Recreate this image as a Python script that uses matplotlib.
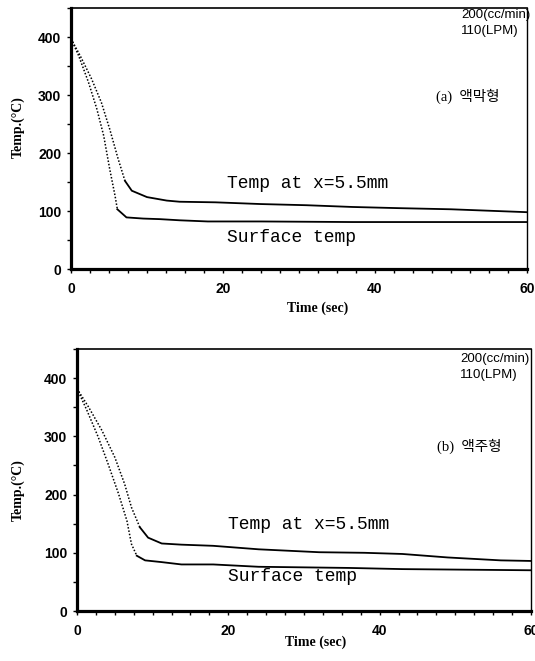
import matplotlib
matplotlib.use('Agg')
import matplotlib.pyplot as plt
from matplotlib.ticker import MultipleLocator

# (a) 액막형 - 표면 / x=5.5mm 온도
a_inner_t = [0, 1.2, 2.7, 4.0, 5.1, 6.2, 7.1, 8.0, 10.0, 12.6, 14.3, 19, 25, 31, 37, 43, 50, 56, 60]
a_inner_T = [397, 368, 328, 287, 241, 190, 152, 135, 124, 118, 116, 115, 112, 110, 107, 105, 103, 100, 98]
a_surf_t = [0, 1.0, 2.3, 3.4, 4.3, 5.1, 5.8, 6.1, 7.3, 9.5, 11.7, 14.3, 18, 25, 37, 45, 60]
a_surf_T = [397, 368, 322, 276, 230, 172, 126, 103, 89, 87, 86, 84, 82, 82, 81, 81, 81]

# (b) 액주형
b_inner_t = [0, 1.5, 3.3, 5.0, 6.3, 7.2, 8.3, 9.4, 11.2, 13.8, 18, 24, 32, 38, 43, 49, 56, 60]
b_inner_T = [382, 351, 310, 264, 218, 178, 144, 126, 116, 114, 112, 106, 101, 100, 98, 92, 87, 86]
b_surf_t = [0, 1.3, 2.8, 4.1, 5.5, 6.6, 7.2, 7.9, 9.0, 11.2, 13.8, 18, 24, 36, 43, 60]
b_surf_T = [382, 345, 299, 253, 201, 155, 115, 95, 87, 84, 80, 80, 76, 74, 72, 70]

flow_text = '200(cc/min)\n110(LPM)'
label_inner = 'Temp at x=5.5mm'
label_surf = 'Surface temp'

SERIF = ['Liberation Serif', 'Noto Sans CJK KR']
SANS = ['Liberation Sans', 'DejaVu Sans']
MONO = ['Liberation Mono', 'DejaVu Sans Mono']


def draw_curve(ax, t, T, t_solid):
    # 급랭 구간은 점선, 이후는 실선
    dotted = [(x, y) for x, y in zip(t, T) if x <= t_solid]
    solid = [(x, y) for x, y in zip(t, T) if x >= t_solid]
    ax.plot([p[0] for p in dotted], [p[1] for p in dotted], color='black',
            lw=1.1, ls=(0, (1, 1.2)))
    ax.plot([p[0] for p in solid], [p[1] for p in solid], color='black', lw=1.3)


def panel(ax, inner, surf, tag, txt_pos):
    draw_curve(ax, inner[0], inner[1], inner[2])
    draw_curve(ax, surf[0], surf[1], surf[2])
    ax.set_xlim(0, 60)
    ax.set_ylim(0, 450)
    ax.xaxis.set_major_locator(MultipleLocator(20))
    ax.xaxis.set_minor_locator(MultipleLocator(2.5))
    ax.yaxis.set_minor_locator(MultipleLocator(50))
    ax.set_yticks([0, 100, 200, 300, 400])
    ax.tick_params(which='both', direction='out', length=3, width=1)
    ax.tick_params(axis='x', pad=6)
    ax.tick_params(axis='y', pad=4)
    for lab in ax.get_xticklabels() + ax.get_yticklabels():
        lab.set_fontfamily(SANS)
        lab.set_fontweight('bold')
        lab.set_fontsize(10)
    ax.spines['left'].set_linewidth(2.3)
    ax.spines['bottom'].set_linewidth(2.3)
    ax.spines['top'].set_linewidth(1.2)
    ax.spines['right'].set_linewidth(1.0)

    (fx, fy1), (tx, ty), (lx, ly1, ly2) = txt_pos
    ax.text(fx, fy1, flow_text, family=SANS, fontsize=9.5, va='top', ha='left',
            linespacing=1.45)
    ax.text(tx, ty, tag, family=SERIF, fontsize=10.5, va='center', ha='left')
    ax.text(lx, ly1, label_inner, family=MONO, fontsize=13, va='center', ha='left')
    ax.text(lx, ly2, label_surf, family=MONO, fontsize=13, va='center', ha='left')

    ax.set_xlabel('Time (sec)', family=SERIF, fontweight='bold', fontsize=10)
    ax.set_ylabel('Temp.(°C)', family=SERIF, fontweight='bold', fontsize=10)


fig = plt.figure(figsize=(5.35, 6.61), dpi=100)
ax1 = fig.add_axes([0.1327, 0.5930, 0.8523, 0.3949])
ax2 = fig.add_axes([0.1439, 0.0756, 0.8486, 0.3964])

panel(ax1, (a_inner_t, a_inner_T, 7.1), (a_surf_t, a_surf_T, 6.1), '(a)  액막형',
      ((51.3, 449), (48.0, 297), (20.5, 148, 55)))
panel(ax2, (b_inner_t, b_inner_T, 8.3), (b_surf_t, b_surf_T, 7.9), '(b)  액주형',
      ((50.6, 444), (47.6, 283), (20.0, 148, 59)))

ax1.xaxis.set_label_coords(0.54, -0.123)
ax1.yaxis.set_label_coords(-0.101, 0.544)
ax2.xaxis.set_label_coords(0.526, -0.095)
ax2.yaxis.set_label_coords(-0.115, 0.46)

fig.savefig('out.png', dpi=100)
